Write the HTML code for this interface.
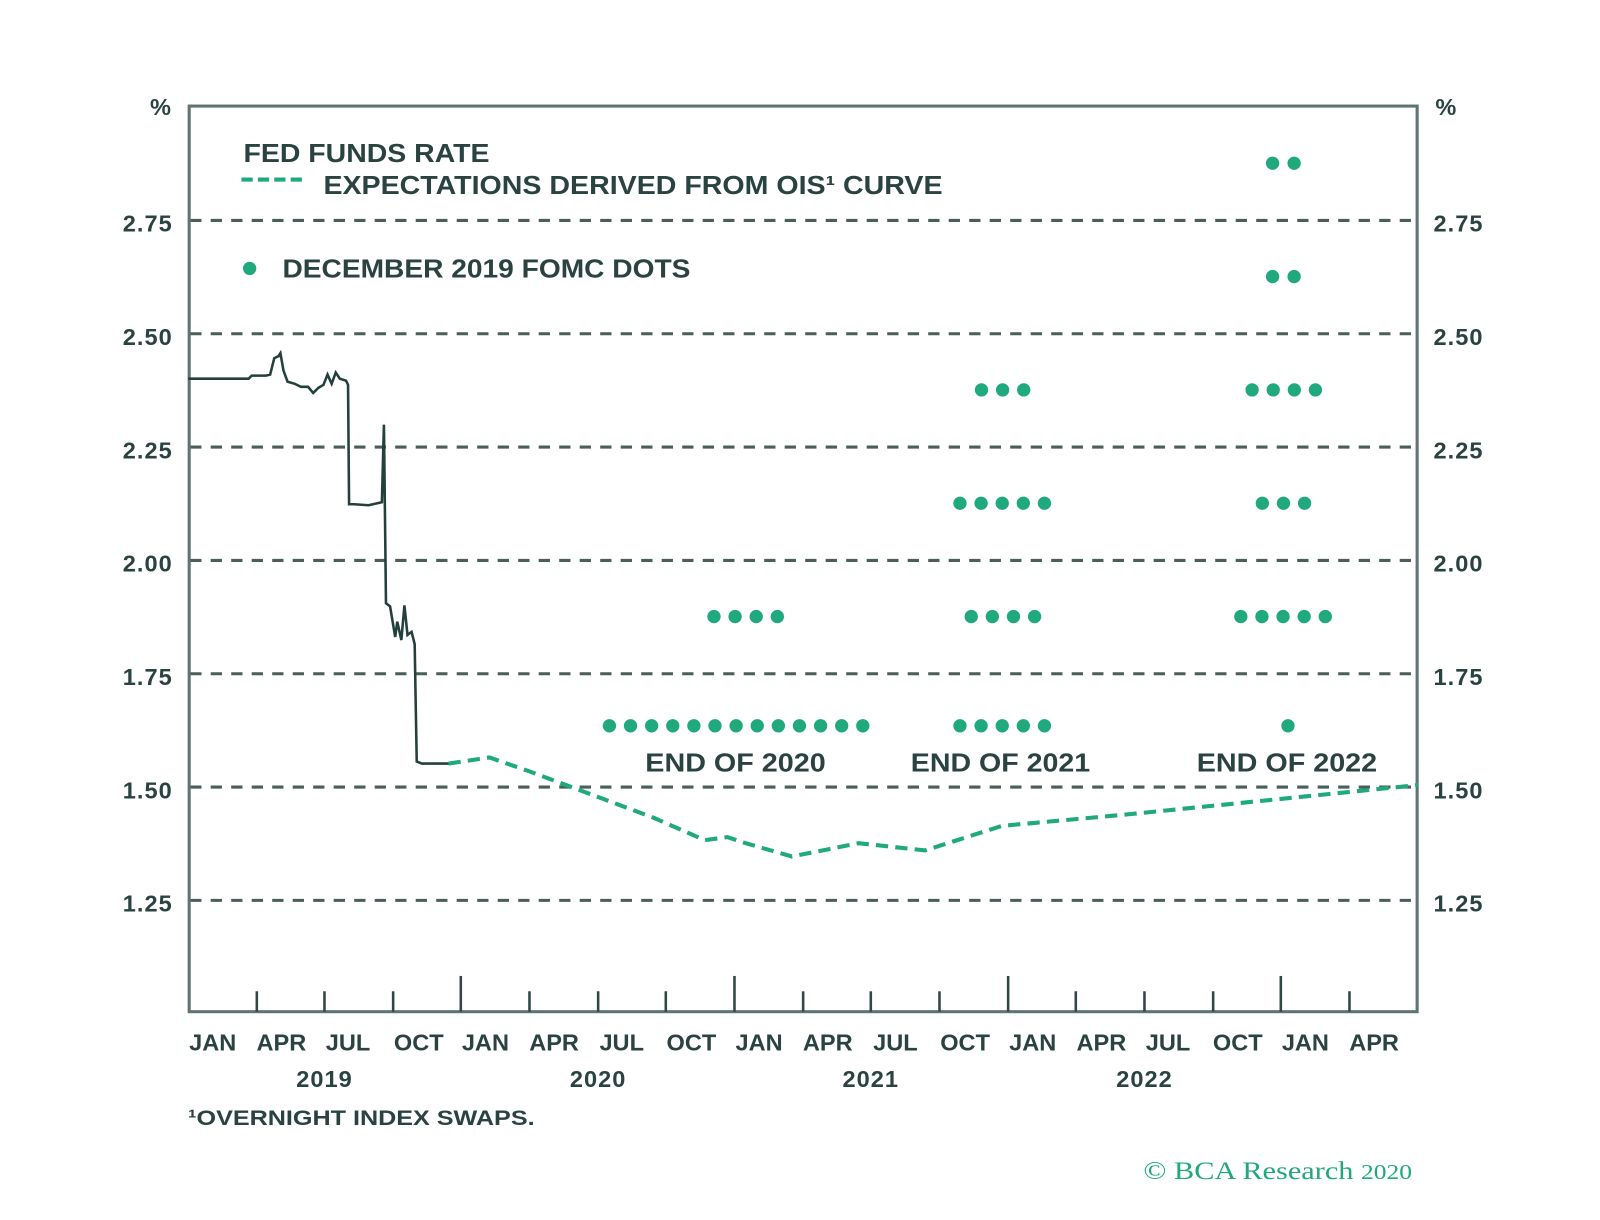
<!DOCTYPE html>
<html><head><meta charset="utf-8"><style>html,body{margin:0;padding:0;background:#fff}svg{display:block}</style></head>
<body>
<svg width="1600" height="1220" viewBox="0 0 1600 1220" xmlns="http://www.w3.org/2000/svg" font-family="Liberation Sans, sans-serif">
<g transform="matrix(1.025,0,0,1.021,-2.5,0.9)">
<g stroke="#4a5e5c" stroke-width="3" stroke-dasharray="11,9">
<line x1="188" y1="215" x2="1384" y2="215"/>
<line x1="188" y1="326" x2="1384" y2="326"/>
<line x1="188" y1="437" x2="1384" y2="437"/>
<line x1="188" y1="548" x2="1384" y2="548"/>
<line x1="188" y1="659" x2="1384" y2="659"/>
<line x1="188" y1="770" x2="1384" y2="770"/>
<line x1="188" y1="881" x2="1384" y2="881"/>
</g>
<rect x="187" y="103" width="1198" height="887" fill="none" stroke="#5f7472" stroke-width="3"/>
<g stroke="#2f4745" stroke-width="2.5">
<line x1="253" y1="990" x2="253" y2="970"/><line x1="319" y1="990" x2="319" y2="970"/><line x1="386" y1="990" x2="386" y2="970"/>
<line x1="452" y1="990" x2="452" y2="955"/>
<line x1="519" y1="990" x2="519" y2="970"/><line x1="586" y1="990" x2="586" y2="970"/><line x1="652" y1="990" x2="652" y2="970"/>
<line x1="719" y1="990" x2="719" y2="955"/>
<line x1="786" y1="990" x2="786" y2="970"/><line x1="852" y1="990" x2="852" y2="970"/><line x1="919" y1="990" x2="919" y2="970"/>
<line x1="986" y1="990" x2="986" y2="955"/>
<line x1="1052" y1="990" x2="1052" y2="970"/><line x1="1119" y1="990" x2="1119" y2="970"/><line x1="1186" y1="990" x2="1186" y2="970"/>
<line x1="1252" y1="990" x2="1252" y2="955"/>
<line x1="1319" y1="990" x2="1319" y2="970"/>
</g>
<polyline fill="none" stroke="#23403d" stroke-width="2.5" points="186,370 245,370 248,367 262,367 266,366 270,350 274,348 276,345 279,362 283,373 290,375 296,378 303,378 308,384 313,379 318,376 322,366 326,375 330,364 334,370 340,372 342,376 343,493 348,493 362,494 375,491 377,415 379,590 383,593 388,623 390,608 394,626 397,592 400,621 404,618 407,630 409,745 414,747 445,747"/>
<polyline fill="none" stroke="#1fa97c" stroke-width="4" stroke-dasharray="12,7" points="440,747 480,741 520,755 560,770 600,785 640,800 690,822 712,819 730,825 775,838 840,825 905,832 980,808 1100,797 1386,768"/>
<g fill="#1fa97c">
<circle cx="597" cy="710" r="6.5"/><circle cx="617.6" cy="710" r="6.5"/><circle cx="638.2" cy="710" r="6.5"/><circle cx="658.8" cy="710" r="6.5"/><circle cx="679.4" cy="710" r="6.5"/><circle cx="700" cy="710" r="6.5"/><circle cx="720.6" cy="710" r="6.5"/><circle cx="741.2" cy="710" r="6.5"/><circle cx="761.8" cy="710" r="6.5"/><circle cx="782.4" cy="710" r="6.5"/><circle cx="803" cy="710" r="6.5"/><circle cx="823.6" cy="710" r="6.5"/><circle cx="844.2" cy="710" r="6.5"/>
<circle cx="699" cy="603" r="6.5"/><circle cx="719.6" cy="603" r="6.5"/><circle cx="740.2" cy="603" r="6.5"/><circle cx="760.8" cy="603" r="6.5"/>
<circle cx="960" cy="381" r="6.5"/><circle cx="980.6" cy="381" r="6.5"/><circle cx="1001.2" cy="381" r="6.5"/>
<circle cx="939" cy="492" r="6.5"/><circle cx="959.6" cy="492" r="6.5"/><circle cx="980.2" cy="492" r="6.5"/><circle cx="1000.8" cy="492" r="6.5"/><circle cx="1021.4" cy="492" r="6.5"/>
<circle cx="950" cy="603" r="6.5"/><circle cx="970.6" cy="603" r="6.5"/><circle cx="991.2" cy="603" r="6.5"/><circle cx="1011.8" cy="603" r="6.5"/>
<circle cx="939" cy="710" r="6.5"/><circle cx="959.6" cy="710" r="6.5"/><circle cx="980.2" cy="710" r="6.5"/><circle cx="1000.8" cy="710" r="6.5"/><circle cx="1021.4" cy="710" r="6.5"/>
<circle cx="1244" cy="159" r="6.5"/><circle cx="1265" cy="159" r="6.5"/>
<circle cx="1244" cy="270" r="6.5"/><circle cx="1265" cy="270" r="6.5"/>
<circle cx="1224" cy="381" r="6.5"/><circle cx="1244.6" cy="381" r="6.5"/><circle cx="1265.2" cy="381" r="6.5"/><circle cx="1285.8" cy="381" r="6.5"/>
<circle cx="1234" cy="492" r="6.5"/><circle cx="1254.6" cy="492" r="6.5"/><circle cx="1275.2" cy="492" r="6.5"/>
<circle cx="1213" cy="603" r="6.5"/><circle cx="1233.6" cy="603" r="6.5"/><circle cx="1254.2" cy="603" r="6.5"/><circle cx="1274.8" cy="603" r="6.5"/><circle cx="1295.4" cy="603" r="6.5"/>
<circle cx="1259" cy="710" r="6.5"/>
<circle cx="246" cy="262" r="6.5"/>
</g>
<line x1="238" y1="175" x2="302" y2="175" stroke="#1fa97c" stroke-width="4" stroke-dasharray="11,5"/>
<g fill="#2a4341" font-weight="bold" font-size="25">
<text x="240" y="158" textLength="240" lengthAdjust="spacingAndGlyphs">FED FUNDS RATE</text>
<text x="318" y="189" textLength="604" lengthAdjust="spacingAndGlyphs">EXPECTATIONS DERIVED FROM OIS¹ CURVE</text>
<text x="278" y="271" textLength="398" lengthAdjust="spacingAndGlyphs">DECEMBER 2019 FOMC DOTS</text>
<text x="632" y="755" textLength="176" lengthAdjust="spacingAndGlyphs">END OF 2020</text>
<text x="891" y="755" textLength="175" lengthAdjust="spacingAndGlyphs">END OF 2021</text>
<text x="1170" y="755" textLength="176" lengthAdjust="spacingAndGlyphs">END OF 2022</text>
</g>
<g fill="#2a4341" font-weight="bold" font-size="23">
<text x="159" y="112" text-anchor="middle">%</text><text x="1413" y="112" text-anchor="middle">%</text>
<g text-anchor="end" letter-spacing="1"><text x="171" y="226">2.75</text><text x="171" y="337">2.50</text><text x="171" y="448">2.25</text><text x="171" y="559">2.00</text><text x="171" y="670">1.75</text><text x="171" y="781">1.50</text><text x="171" y="892">1.25</text></g>
<g letter-spacing="1"><text x="1401" y="226">2.75</text><text x="1401" y="337">2.50</text><text x="1401" y="448">2.25</text><text x="1401" y="559">2.00</text><text x="1401" y="670">1.75</text><text x="1401" y="781">1.50</text><text x="1401" y="892">1.25</text></g>
<g text-anchor="middle">
<text x="210" y="1028">JAN</text><text x="277" y="1028">APR</text><text x="342" y="1028">JUL</text><text x="411" y="1028">OCT</text>
<text x="476" y="1028">JAN</text><text x="543" y="1028">APR</text><text x="609" y="1028">JUL</text><text x="677" y="1028">OCT</text>
<text x="743" y="1028">JAN</text><text x="810" y="1028">APR</text><text x="876" y="1028">JUL</text><text x="944" y="1028">OCT</text>
<text x="1010" y="1028">JAN</text><text x="1077" y="1028">APR</text><text x="1142" y="1028">JUL</text><text x="1210" y="1028">OCT</text>
<text x="1276" y="1028">JAN</text><text x="1343" y="1028">APR</text>
<text x="319" y="1064" letter-spacing="1">2019</text><text x="586" y="1064" letter-spacing="1">2020</text><text x="852" y="1064" letter-spacing="1">2021</text><text x="1119" y="1064" letter-spacing="1">2022</text>
</g>
<text x="186" y="1101" font-size="21" textLength="338" lengthAdjust="spacingAndGlyphs">¹OVERNIGHT INDEX SWAPS.</text>
</g>
<text x="1118" y="1154" fill="#1fa97c" font-family="Liberation Serif, serif" font-size="25" textLength="262" lengthAdjust="spacingAndGlyphs">© BCA Research <tspan font-size="21">2020</tspan></text>
</g>
</svg>
</body></html>
